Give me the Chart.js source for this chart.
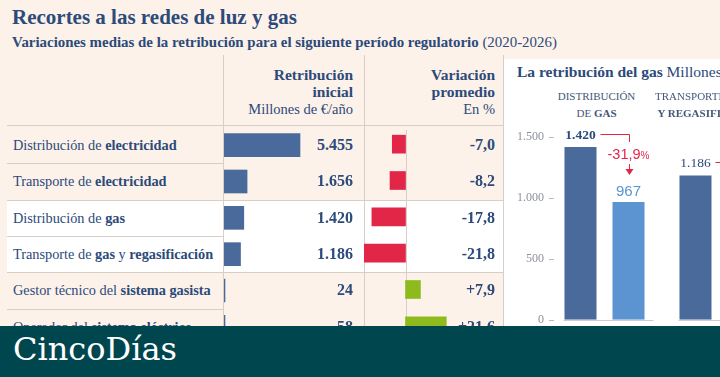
<!DOCTYPE html>
<html>
<head>
<meta charset="utf-8">
<script src="https://cdn.jsdelivr.net/npm/chart.js@4.4.0/dist/chart.umd.min.js"></script>
<style>
html, body { margin: 0; padding: 0; }
body {
    width: 720px; height: 377px; overflow: hidden; position: relative;
    background: #fcf2e9; color: #2c4a7a;
    font-family: 'Liberation Serif', serif;
}
.abs { position: absolute; white-space: nowrap; }
canvas { position: absolute; }
#title { left: 12px; top: 5px; font-size: 21px; font-weight: bold; }
#subtitle { left: 12px; top: 34px; font-size: 14.9px; }
.vline { position: absolute; width: 1px; background: #d8cec5; top: 55px; height: 272px; }
.hline { position: absolute; height: 1px; background: #d8cec5; }
#band { position: absolute; left: 7px; width: 496px; background: #fff; border-top: 1px solid #d8cec5; border-bottom: 1px solid #d8cec5; }
#panel { position: absolute; left: 504px; top: 59px; width: 216px; height: 267px; background: #fff; }
.head { text-align: right; font-size: 15.5px; line-height: 17px; }
.head .sub { font-size: 14.5px; font-weight: normal; }
.rowlab { font-size: 14.3px; }
.val { font-size: 16px; font-weight: bold; text-align: right; }
#gasTitle { left: 517px; top: 63px; font-size: 15.5px; }
.cat { font-size: 11px; line-height: 17px; text-align: center; color: #44577a; transform: translateX(-50%); }
.glab { transform: translate(-50%, -50%); }
#banner { position: absolute; left: 0; top: 326px; width: 720px; height: 51px; background: #00464e; z-index: 10; }
#brand { left: 13px; top: 4px; font-size: 32px; color: #fff; font-family: 'DejaVu Serif', serif; }
</style>
</head>
<body>
<div id="panel"></div>
<div id="band"></div>
<div id="title" class="abs">Recortes a las redes de luz y gas</div>
<div id="subtitle" class="abs"><b>Variaciones medias de la retribución para el siguiente período regulatorio</b> (2020-2026)</div>

<div class="vline" style="left:223px"></div>
<div class="vline" style="left:364px"></div>
<div class="vline" style="left:503px"></div>
<div class="hline" style="left:7px; width:497px; top:125px"></div>

<div class="abs head" style="right:367px; top:66px"><b>Retribución<br>inicial</b><br><span class="sub">Millones de €/año</span></div>
<div class="abs head" style="right:225px; top:66px"><b>Variación<br>promedio</b><br><span class="sub">En %</span></div>

<div id="gasTitle" class="abs"><b>La retribución del gas</b> Millones de €</div>

<canvas id="cRet" width="90" height="218" style="left:224px; top:127px"></canvas>
<canvas id="cVar" width="85" height="218" style="left:363px; top:126px"></canvas>
<canvas id="cGas" width="272" height="203" style="left:505px; top:127px"></canvas>

<div id="banner"><div id="brand" class="abs">CincoDías</div></div>

<script>
// filas de la tabla
const rowLabels = [
    'Distribución de **electricidad**',
    'Transporte de **electricidad**',
    'Distribución de **gas**',
    'Transporte de **gas** y **regasificación**',
    'Gestor técnico del **sistema gasista**',
    'Operador del **sistema eléctrico**'
];
const retribution = [5455, 1656, 1420, 1186, 24, 58];
const variation = [-7.0, -8.2, -17.8, -21.8, 7.9, 21.6];

// gráfico del gas
const gasGroups = [
    ['DISTRIBUCIÓN', 'DE **GAS**'],
    ['TRANSPORTE DE **GAS**', '**Y REGASIFICACIÓN**']
];
const gasInitial = [1420, 1186];
const gasNew = [967, null];
const gasChange = [-31.9, null];
const gasTicks = [0, 500, 1000, 1500];

const ROW_TOP = 127;
const ROW_H = 218 / rowLabels.length;

const BLUE = '#4b6a9c';
const LIGHT = '#5b94d0';
const RED = '#e22648';
const GREEN = '#8fba1e';
const LINE = '#d8cec5';

const md = s => s.split('**').map((p, i) => i % 2 ? '<b>' + p + '</b>' : p).join('');
const fmtInt = v => String(v).replace(/\B(?=(\d{3})+(?!\d))/g, '.');
const fmtPct = v => (v > 0 ? '+' : '') + v.toFixed(1).replace('.', ',');

function addDiv(cls, html, style) {
    const d = document.createElement('div');
    d.className = 'abs ' + cls;
    d.innerHTML = html;
    Object.assign(d.style, style);
    document.body.appendChild(d);
    return d;
}

// fondo blanco de las filas del gas y separadores
const band = document.getElementById('band');
band.style.top = (ROW_TOP + 2 * ROW_H) + 'px';
band.style.height = (2 * ROW_H - 1) + 'px';
for (let i = 1; i < rowLabels.length; i++) {
    addDiv('hline', '', { left: '7px', width: '216px', top: (ROW_TOP + i * ROW_H) + 'px' });
}

rowLabels.forEach((lab, i) => {
    const top = ROW_TOP + i * ROW_H;
    addDiv('rowlab', md(lab), { left: '13px', top: top + 'px', lineHeight: ROW_H + 'px' });
    addDiv('val', fmtInt(retribution[i]), { right: '367px', top: top + 'px', lineHeight: ROW_H + 'px' });
    addDiv('val', fmtPct(variation[i]), { right: '225px', top: top + 'px', lineHeight: ROW_H + 'px' });
});

const baseOpts = {
    indexAxis: 'y',
    responsive: false,
    animation: false,
    events: [],
    layout: { padding: 0, autoPadding: false },
    plugins: { legend: { display: false }, tooltip: { enabled: false } }
};

new Chart(document.getElementById('cRet'), {
    type: 'bar',
    data: {
        labels: rowLabels,
        datasets: [{ data: retribution, backgroundColor: BLUE, barThickness: 23, minBarLength: 1 }]
    },
    options: {
        ...baseOpts,
        scales: { x: { display: false, min: 0, max: 6460 }, y: { display: false } }
    }
});

const zeroLine = {
    id: 'zeroLine',
    beforeDatasetsDraw(chart) {
        const { ctx, chartArea, scales } = chart;
        const x = Math.round(scales.x.getPixelForValue(0)) + 0.5;
        ctx.save();
        ctx.strokeStyle = LINE;
        ctx.beginPath();
        ctx.moveTo(x, chartArea.top + 4);
        ctx.lineTo(x, chartArea.bottom);
        ctx.stroke();
        ctx.restore();
    }
};

new Chart(document.getElementById('cVar'), {
    type: 'bar',
    data: {
        labels: rowLabels,
        datasets: [{ data: variation, backgroundColor: variation.map(v => v < 0 ? RED : GREEN), barThickness: 18 }]
    },
    options: {
        ...baseOpts,
        scales: { x: { display: false, min: -22.5, max: 22.5 }, y: { display: false } }
    },
    plugins: [zeroLine]
});

const gasMarks = {
    id: 'gasMarks',
    afterDatasetsDraw(chart) {
        const { ctx, chartArea, scales: { x, y } } = chart;
        ctx.save();
        ctx.lineWidth = 1;
        // guiones de las marcas del eje
        ctx.strokeStyle = '#b7bbc4';
        y.ticks.forEach((t, i) => {
            const py = Math.round(y.getPixelForTick(i)) + 0.5;
            ctx.beginPath();
            ctx.moveTo(chartArea.left + 2, py);
            ctx.lineTo(chartArea.left + 7, py);
            ctx.stroke();
        });
        // base de cada grupo
        ctx.strokeStyle = '#c9ccd3';
        gasGroups.forEach((g, j) => {
            const cx = x.getPixelForValue(j);
            const py = Math.round(chartArea.bottom) + 0.5;
            ctx.beginPath();
            ctx.moveTo(cx - 41, py);
            ctx.lineTo(cx + 49, py);
            ctx.stroke();
        });
        // conectores rojos
        const m0 = chart.getDatasetMeta(0), m1 = chart.getDatasetMeta(1);
        const slot = m1.data[0].x - m0.data[0].x;
        ctx.strokeStyle = RED;
        ctx.fillStyle = RED;
        gasInitial.forEach((v, j) => {
            const b = m0.data[j];
            const x1 = Math.round(b.x + slot) + 0.5;
            const yy = Math.round(b.y - 13) + 0.5;
            ctx.beginPath();
            ctx.moveTo(b.x + 20, yy);
            ctx.lineTo(x1, yy);
            ctx.lineTo(x1, b.y - 5);
            ctx.stroke();
            if (gasNew[j] != null) {
                const top = m1.data[j].y;
                ctx.beginPath();
                ctx.moveTo(x1, top - 38);
                ctx.lineTo(x1, top - 32);
                ctx.stroke();
                ctx.beginPath();
                ctx.moveTo(x1 - 4, top - 33);
                ctx.lineTo(x1 + 4, top - 33);
                ctx.lineTo(x1, top - 27);
                ctx.closePath();
                ctx.fill();
            }
        });
        ctx.restore();
    }
};

const gasChart = new Chart(document.getElementById('cGas'), {
    type: 'bar',
    data: {
        labels: gasGroups.map(g => g.join(' ').replace(/\*\*/g, '')),
        datasets: [
            { data: gasInitial, backgroundColor: BLUE },
            { data: gasNew, backgroundColor: LIGHT }
        ]
    },
    options: {
        responsive: false,
        animation: false,
        events: [],
        layout: { padding: { top: 10, bottom: 8, left: 0, right: 0 }, autoPadding: false },
        datasets: { bar: { categoryPercentage: 0.835, barPercentage: 0.667 } },
        plugins: { legend: { display: false }, tooltip: { enabled: false } },
        scales: {
            x: { display: false },
            y: {
                min: 0, max: 1500,
                afterFit: s => { s.width = 42; },
                afterBuildTicks: s => { s.ticks = gasTicks.map(v => ({ value: v })); },
                grid: { display: false, drawTicks: false },
                border: { display: false },
                ticks: {
                    padding: 3,
                    color: '#8c919c',
                    font: { family: 'Liberation Serif', size: 12 },
                    callback: v => fmtInt(v)
                }
            }
        }
    },
    plugins: [gasMarks]
});

// textos del gráfico del gas, situados con las escalas
(function placeGasLabels(chart) {
    const left = chart.canvas.offsetLeft, top = chart.canvas.offsetTop;
    const m0 = chart.getDatasetMeta(0), m1 = chart.getDatasetMeta(1);
    gasGroups.forEach((g, j) => {
        const cx = left + chart.scales.x.getPixelForValue(j) - 8;
        addDiv('cat', md(g[0]) + '<br>' + md(g[1]), { left: cx + 'px', top: '88px' });
        const b0 = m0.data[j];
        addDiv('glab', fmtInt(gasInitial[j]), {
            left: (left + b0.x) + 'px', top: (top + b0.y - 12) + 'px',
            fontSize: '13.5px', fontWeight: j === 0 ? 'bold' : 'normal'
        });
        if (gasNew[j] != null) {
            const b1 = m1.data[j];
            addDiv('glab', fmtInt(gasNew[j]), {
                left: (left + b1.x) + 'px', top: (top + b1.y - 12) + 'px',
                fontSize: '15px', color: LIGHT, fontFamily: 'Liberation Sans, sans-serif'
            });
            addDiv('glab', fmtPct(gasChange[j]) + '<span style="font-size:10px">%</span>', {
                left: (left + b1.x) + 'px', top: (top + b1.y - 48) + 'px',
                fontSize: '14.5px', color: RED, fontFamily: 'Liberation Sans, sans-serif'
            });
        }
    });
})(gasChart);
</script>
</body>
</html>
